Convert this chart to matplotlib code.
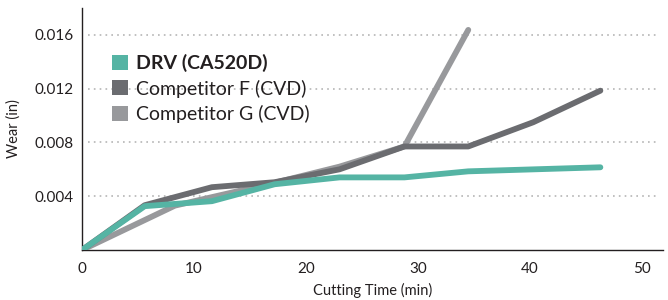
import matplotlib
matplotlib.use("Agg")
import matplotlib.pyplot as plt
from matplotlib.patches import Patch

plt.rcParams['font.family'] = ['Lato', 'DejaVu Sans']

drv_x = [0, 5.6, 11.6, 17.2, 23.0, 28.8, 34.5, 46.3]
drv_y = [0, 0.00326, 0.00363, 0.00489, 0.0054, 0.0054, 0.00585, 0.00615]

f_x = [0, 5.6, 11.6, 17.2, 23.0, 28.8, 34.5, 40.3, 46.3]
f_y = [0, 0.00333, 0.00467, 0.00504, 0.0060, 0.0077, 0.0077, 0.0095, 0.01185]

g_x = [0, 8.3, 17.2, 23.0, 28.8, 34.5]
g_y = [0, 0.0033, 0.0050, 0.0062, 0.0077, 0.01637]

labels = ["DRV (CA520D)", "Competitor F (CVD)", "Competitor G (CVD)"]
colors = ["#55b4a4", "#6b6c70", "#98999c"]

x_ticks = [0, 10, 20, 30, 40, 50]
y_ticks = [0.004, 0.008, 0.012, 0.016]
y_tick_labels = ["0.004", "0.008", "0.012", "0.016"]

fig = plt.figure(figsize=(6.68, 3.0), dpi=100)
ax = fig.add_axes([0.1228, 0.1667, 0.8698, 0.8067])

lw = 4.2
ax.plot(g_x, g_y, color=colors[2], lw=lw, solid_capstyle='round', solid_joinstyle='round', zorder=3)
ax.plot(f_x, f_y, color=colors[1], lw=lw, solid_capstyle='round', solid_joinstyle='round', zorder=4)
ax.plot(drv_x, drv_y, color=colors[0], lw=lw, solid_capstyle='round', solid_joinstyle='round', zorder=5)

ax.set_xlim(0, 51.9)
ax.set_ylim(0, 0.018)
ax.set_xticks(x_ticks)
ax.set_xticklabels([str(t) for t in x_ticks], fontsize=11)
ax.set_yticks(y_ticks)
ax.set_yticklabels(y_tick_labels, fontsize=11)
ax.tick_params(length=0, pad=6, colors='#231f20')
ax.tick_params(axis='x', pad=9)

for y in y_ticks:
    ax.plot([0.5, 51.3], [y, y], color='#b5b5b5', lw=1.2, ls=(0, (1, 2.5)), zorder=1)

for s in ['top', 'right']:
    ax.spines[s].set_visible(False)
for s in ['left', 'bottom']:
    ax.spines[s].set_color('#231f20')
    ax.spines[s].set_linewidth(1.0)

ax.set_ylabel("Wear (in)", fontsize=10.5, color='#231f20', labelpad=10)
ax.set_xlabel("Cutting Time (min)", fontsize=10.5, color='#231f20', labelpad=5)

handles = [Patch(facecolor=c, edgecolor='none') for c in colors]
leg = ax.legend(handles, labels, loc='upper left', bbox_to_anchor=(0.035, 0.85),
                frameon=False, fontsize=14, handlelength=0.8, handleheight=0.8,
                handletextpad=0.45, labelspacing=0.38, borderpad=0)
leg.get_texts()[0].set_fontweight('bold')
for t in leg.get_texts():
    t.set_color('#231f20')

fig.savefig("out.png", dpi=100)
